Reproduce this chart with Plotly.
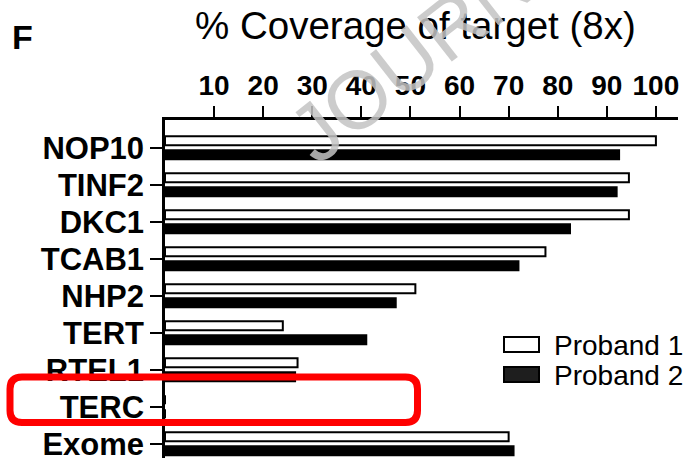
import plotly.graph_objects as go

# Coverage data (% of target at 8x) per gene
genes = ["NOP10", "TINF2", "DKC1", "TCAB1", "NHP2", "TERT", "RTEL1", "TERC", "Exome"]
proband1 = [100, 94.5, 94.5, 77.5, 51, 24, 27, 0, 70]
proband2 = [92.5, 92, 82.5, 72, 47, 41, 26.5, 0, 71]
x_ticks = [10, 20, 30, 40, 50, 60, 70, 80, 90, 100]
series_names = ["Proband 1", "Proband 2"]

W_FIG, H_FIG = 687, 458
L, R, T, B = 165, 678, 120, 458  # plot area in pixels
FONT = "Liberation Sans, Arial, Helvetica, sans-serif"


def xp(px):
    return (px - L) / (R - L)


def yp(py):
    return (B - py) / (B - T)


fig = go.Figure()
fig.add_trace(go.Bar(
    name=series_names[0], y=genes, x=proband1, orientation="h",
    marker=dict(color="white", line=dict(color="black", width=2)),
    showlegend=False,
))
fig.add_trace(go.Bar(
    name=series_names[1], y=genes, x=proband2, orientation="h",
    marker=dict(color="black", line=dict(color="black", width=2)),
    showlegend=False,
))

# Legend drawn as boxes + labels
shapes = [
    dict(type="rect", xref="paper", yref="paper",
         x0=xp(504), x1=xp(539), y0=yp(352), y1=yp(337),
         line=dict(color="black", width=2), fillcolor="white"),
    dict(type="rect", xref="paper", yref="paper",
         x0=xp(504), x1=xp(539), y0=yp(382), y1=yp(367),
         line=dict(color="black", width=2), fillcolor="#1e1e1e"),
]

# Rounded red highlight box around TERC
x0, x1, y0, y1, r = 10, 417.5, 377, 422.5, 12
path = (
    f"M {xp(x0 + r)},{yp(y0)} L {xp(x1 - r)},{yp(y0)} "
    f"Q {xp(x1)},{yp(y0)} {xp(x1)},{yp(y0 + r)} "
    f"L {xp(x1)},{yp(y1 - r)} Q {xp(x1)},{yp(y1)} {xp(x1 - r)},{yp(y1)} "
    f"L {xp(x0 + r)},{yp(y1)} Q {xp(x0)},{yp(y1)} {xp(x0)},{yp(y1 - r)} "
    f"L {xp(x0)},{yp(y0 + r)} Q {xp(x0)},{yp(y0)} {xp(x0 + r)},{yp(y0)} Z"
)
shapes.append(dict(type="path", xref="paper", yref="paper", path=path,
                   line=dict(color="#ff0000", width=7), layer="above"))

annotations = [
    dict(text="% Coverage of target (8x)", xref="paper", yref="paper",
         x=xp(415), y=yp(25), xanchor="center", yanchor="middle",
         showarrow=False, font=dict(family=FONT, size=38.5, color="black")),
    dict(text="F", xref="paper", yref="paper",
         x=xp(22), y=yp(37), xanchor="center", yanchor="middle",
         showarrow=False, font=dict(family=FONT, size=34, color="black", weight="bold")),
    dict(text=series_names[0], xref="paper", yref="paper",
         x=xp(552), y=yp(345), xanchor="left", yanchor="middle",
         showarrow=False, font=dict(family=FONT, size=28, color="black")),
    dict(text=series_names[1], xref="paper", yref="paper",
         x=xp(552), y=yp(375), xanchor="left", yanchor="middle",
         showarrow=False, font=dict(family=FONT, size=28, color="black")),
    # diagonal journal watermark
    dict(text="JOURNAL PRE-PROOF", xref="paper", yref="paper",
         x=xp(650), y=yp(-130), xanchor="center", yanchor="middle",
         textangle=-38, showarrow=False,
         font=dict(family=FONT, size=82, color="rgba(195,195,195,0.85)")),
]

fig.update_layout(
    width=W_FIG, height=H_FIG,
    margin=dict(l=L, r=W_FIG - R, t=T, b=H_FIG - B, autoexpand=False),
    paper_bgcolor="white", plot_bgcolor="white",
    barmode="group", bargap=0.25, bargroupgap=0.35,
    font=dict(family=FONT, color="black"),
    shapes=shapes, annotations=annotations,
    xaxis=dict(
        side="top", range=[0, 104.5], tickvals=x_ticks,
        ticks="outside", ticklen=11, tickwidth=2, tickcolor="black",
        showline=True, linewidth=2.5, linecolor="black",
        showgrid=False, zeroline=False, automargin=False,
        tickfont=dict(family=FONT, size=28, color="black", weight="bold"),
    ),
    yaxis=dict(
        type="category", categoryorder="array", categoryarray=genes,
        range=[8.386, -0.749],
        ticks="outside", ticklen=12, tickwidth=2, tickcolor="black",
        showline=True, linewidth=2.5, linecolor="black",
        showgrid=False, zeroline=False, automargin=False,
        tickfont=dict(family=FONT, size=31, color="black", weight="bold"),
    ),
)

fig.write_html("out.html")
